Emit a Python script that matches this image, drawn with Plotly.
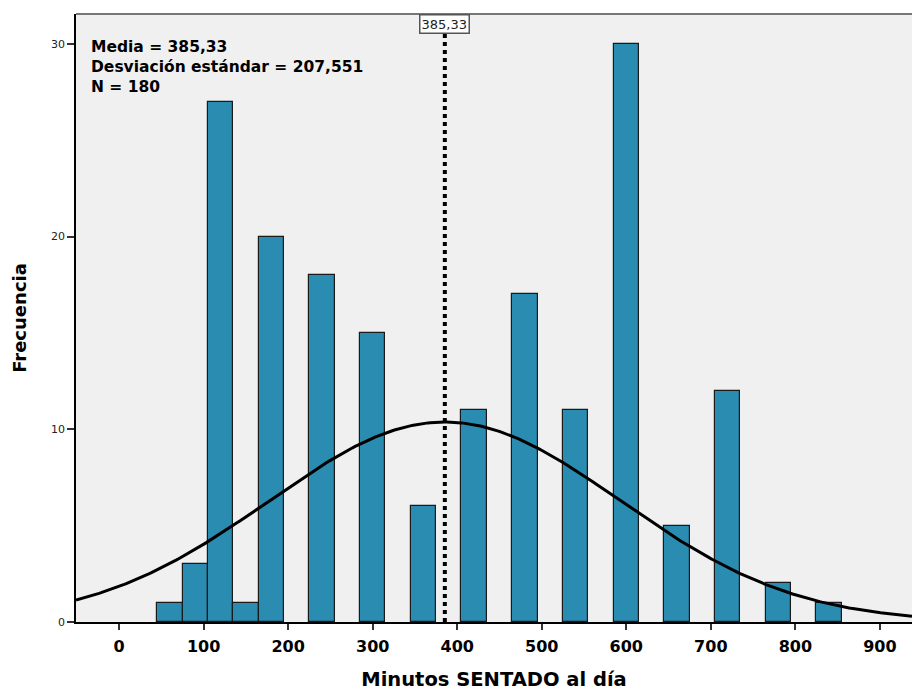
import numpy as np
import plotly.graph_objects as go

# Histogram of minutes seated per day (bin centres, width 30)
bin_centers = [60, 90, 120, 150, 180, 240, 300, 360, 420, 480, 540, 600, 660, 720, 780, 840]
frequencies = [1, 3, 27, 1, 20, 18, 15, 6, 11, 17, 11, 30, 5, 12, 2, 1]
bin_width = 30

mean_val = 385.33
std_val = 207.551
n_total = 180

x_ticks = [0, 100, 200, 300, 400, 500, 600, 700, 800, 900]
y_ticks = [0, 10, 20, 30]

x_range = [-51, 938]
y_range = [0, 31.55]

# Normal curve scaled to counts
xs = np.linspace(x_range[0], x_range[1], 400)
ys = n_total * bin_width / (std_val * np.sqrt(2 * np.pi)) * np.exp(-0.5 * ((xs - mean_val) / std_val) ** 2)

FONT = "DejaVu Sans"

fig = go.Figure()
fig.add_trace(go.Bar(
    x=bin_centers, y=frequencies, width=bin_width,
    marker=dict(color="#2A8CB0", line=dict(color="#1a1a1a", width=1.2)),
    hoverinfo="x+y",
))
fig.add_trace(go.Scatter(
    x=xs, y=ys, mode="lines",
    line=dict(color="black", width=3), hoverinfo="skip",
))

# Mean reference line
fig.add_shape(type="line", x0=mean_val, x1=mean_val, y0=0, y1=30.6,
              xref="x", yref="y", line=dict(color="black", width=4, dash="dot"))
# Top frame edge
fig.add_shape(type="line", x0=0, x1=1, y0=1, y1=1, xref="paper", yref="paper",
              line=dict(color="#777777", width=2))

fig.add_annotation(x=mean_val, y=1.0, xref="x", yref="paper", text="385,33",
                   showarrow=False, yanchor="top", font=dict(family=FONT, size=13, color="#222"),
                   bgcolor="white", bordercolor="#555", borderwidth=1.5, borderpad=1)

fig.add_annotation(x=0.016, y=0.963, xref="paper", yref="paper", xanchor="left", yanchor="top",
                   align="left", showarrow=False,
                   text="<b>Media = 385,33<br>Desviación estándar = 207,551<br>N = 180</b>",
                   font=dict(family=FONT, size=15.5, color="black"))

fig.update_layout(
    width=912, height=691,
    margin=dict(l=76, r=0, t=14, b=69),
    plot_bgcolor="#F0F0F0", paper_bgcolor="white",
    showlegend=False, bargap=0,
    font=dict(family=FONT),
    xaxis=dict(range=x_range, tickvals=x_ticks, ticktext=[str(v) for v in x_ticks],
               ticks="outside", ticklen=6, tickwidth=1.5, tickcolor="#333",
               ticklabelstandoff=3,
               showline=True, linecolor="black", linewidth=1.5,
               showgrid=False, zeroline=False,
               tickfont=dict(family=FONT, size=16, color="black", weight="bold"),
               title=dict(text="<b>Minutos SENTADO al día</b>", font=dict(family=FONT, size=19.5, color="black"),
                          standoff=20)),
    yaxis=dict(range=y_range, tickvals=y_ticks, ticktext=[str(v) for v in y_ticks],
               ticks="outside", ticklen=7, tickwidth=1.5, tickcolor="#333",
               showline=True, linecolor="black", linewidth=1.5,
               showgrid=False, zeroline=False,
               tickfont=dict(family=FONT, size=11, color="#222"),
               title=dict(text="<b>Frecuencia</b>", font=dict(family=FONT, size=18, color="black"),
                          standoff=20)),
)

fig.write_html("out.html")
